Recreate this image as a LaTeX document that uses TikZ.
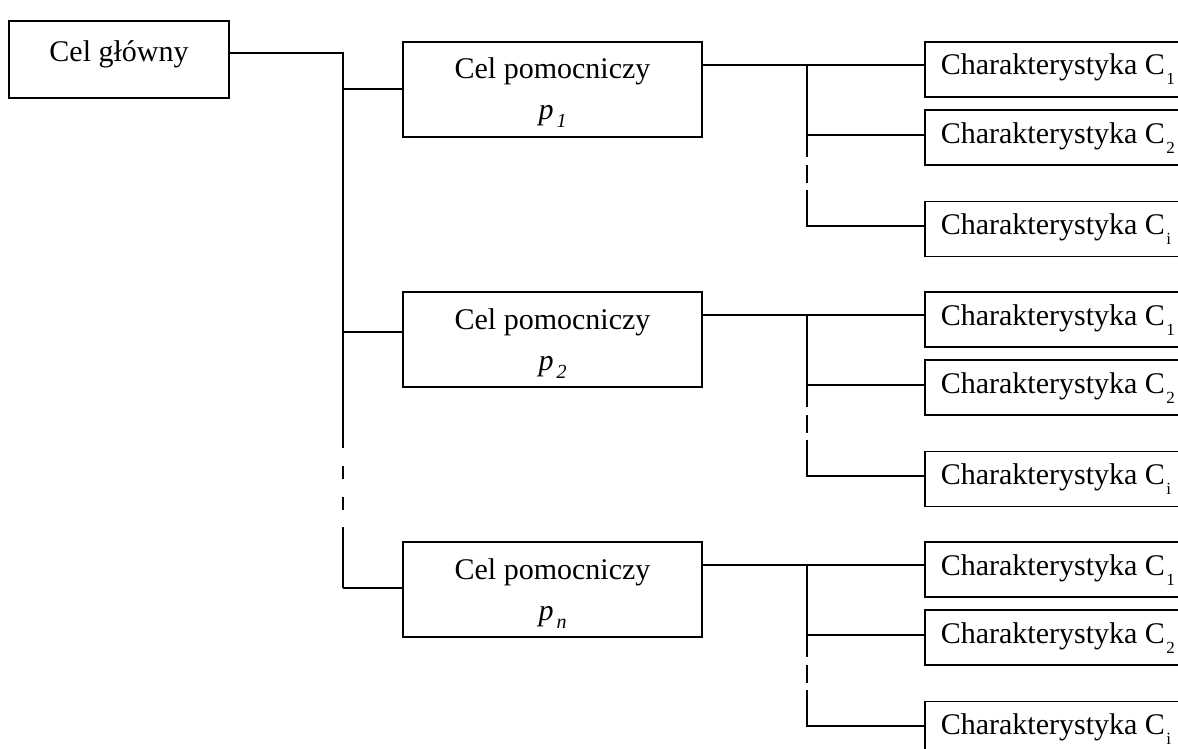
\documentclass[tikz,border=0pt]{standalone}
\usepackage{fontspec}
\setmainfont{Liberation Serif}
\usetikzlibrary{calc}
\newcommand\mytxt{\fontsize{30}{36}\selectfont}
\newcommand\csub[1]{\hspace{1.5pt}\raisebox{-10pt}{\fontsize{17}{17}\selectfont #1}}
\newcommand\psub[1]{\hspace{3pt}\raisebox{-8pt}{\fontsize{20}{20}\selectfont\itshape #1}}
\begin{document}
\begin{tikzpicture}[x=1pt,y=-1pt,
  box/.style={draw, line width=1.6pt, inner sep=0pt, font=\mytxt},
  mainbox/.style={box, minimum width=220pt, text height=41pt, text depth=36pt},
  pbox/.style={box, minimum width=299pt, minimum height=95pt},
  cbox/.style={box, anchor=west, inner xsep=16pt, minimum width=260pt, text height=33pt, text depth=22pt},
  txt/.style={inner sep=0pt, font=\mytxt, anchor=base},
  conn/.style={line width=1.4pt},
  gap/.style={conn, dash pattern=on 13pt off 18pt},
  rgap/.style={conn, dash pattern=on 0pt off 8pt on 18pt off 20pt}]
\useasboundingbox (0,0) rectangle (1178,749);
\clip (0,0) rectangle (1178,749);

\node[mainbox] (main) at (119,59.5) {Cel główny};

\coordinate (t0) at (343,53);
\coordinate (tA) at (343,435);
\coordinate (tB) at (343,527);
\coordinate (tE) at (343,588);
\draw[conn] (main.east |- t0) -- (t0) -- (tA);
\draw[gap] (tA) -- (tB);
\draw[conn] (tB) -- (tE);

\foreach \i/\o/\s/\b in {1/0/1/89, 2/250/2/332, 3/500/n/588} {
  \node[pbox] (p\i) at (552.5,89.5+\o) {};
  \node[txt] (pa\i) at (552.5,79+\o) {Cel pomocniczy};
  \node[txt] (pb\i) at (552.5,120+\o) {\textit{p}\psub{\s}};
  \coordinate (tb\i) at (343,\b);
  \draw[conn] (tb\i) -- (p\i.west |- tb\i);

  \node[cbox] (ca\i) at (924,69.5+\o) {Charakterystyka C\csub{1}};
  \node[cbox] (cb\i) at (924,137.5+\o) {Charakterystyka C\csub{2}};
  \node[cbox] (ci\i) at (924,229+\o) {Charakterystyka C\csub{i}};

  \coordinate (ra\i) at (807,65+\o);
  \coordinate (rm\i) at (807,135+\o);
  \coordinate (rb\i) at (807,157+\o);
  \coordinate (rc\i) at (807,190+\o);
  \coordinate (rd\i) at (807,226+\o);
  \draw[conn] (p\i.east |- ra\i) -- (ca\i.west |- ra\i);
  \draw[conn] (ra\i) -- (rb\i);
  \draw[rgap] (rb\i) -- (rc\i);
  \draw[conn] (rc\i) -- (rd\i) -- (ci\i.west |- rd\i);
  \draw[conn] (rm\i) -- (cb\i.west |- rm\i);
}
\end{tikzpicture}
\end{document}
